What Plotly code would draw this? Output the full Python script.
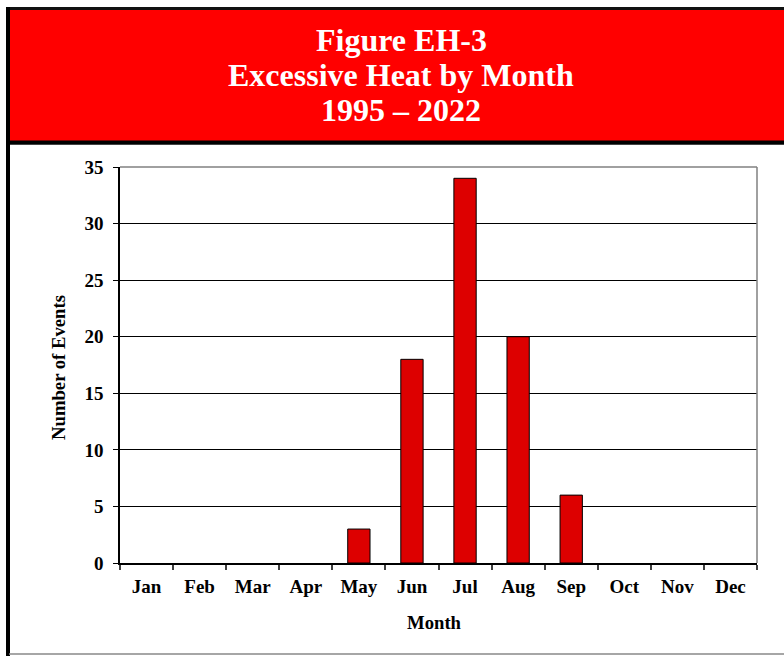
import plotly.graph_objects as go

months = ["Jan", "Feb", "Mar", "Apr", "May", "Jun", "Jul", "Aug", "Sep", "Oct", "Nov", "Dec"]
events = [0, 0, 0, 0, 3, 18, 34, 20, 6, 0, 0, 0]
y_ticks = [0, 5, 10, 15, 20, 25, 30, 35]
title_lines = ["Figure EH-3", "Excessive Heat by Month", "1995 \u2013 2022"]

W, H = 784, 656
L, R, T, B = 120, 757, 167, 563

def px(x):
    return (x - L) / (R - L)

def py(y):
    return (B - y) / (B - T)

FONT = "Liberation Serif, Times New Roman, serif"

fig = go.Figure(go.Bar(
    x=months, y=events,
    marker=dict(color="#DD0000",
                line=dict(color="black", width=[1 if v > 0 else 0 for v in events])),
    width=0.42,
))

shapes = [
    dict(type="rect", xref="paper", yref="paper", x0=px(8), x1=px(800), y0=py(143), y1=py(8.5),
         fillcolor="#FF0000", line=dict(color="#111111", width=3), layer="above"),
    dict(type="line", xref="paper", yref="paper", x0=px(8), x1=px(800), y0=py(142.5), y1=py(142.5),
         line=dict(color="black", width=4), layer="above"),
    dict(type="line", xref="paper", yref="paper", x0=px(8), x1=px(8), y0=py(7), y1=py(660),
         line=dict(color="black", width=4), layer="above"),
    dict(type="line", xref="paper", yref="paper", x0=px(9), x1=px(800), y0=py(654), y1=py(654),
         line=dict(color="#888888", width=1.5), layer="above"),
    dict(type="line", xref="paper", yref="paper", x0=0, x1=1, y0=1, y1=1,
         line=dict(color="#808080", width=1.5), layer="above"),
    dict(type="line", xref="paper", yref="paper", x0=1, x1=1, y0=0, y1=1,
         line=dict(color="#808080", width=1.5), layer="above"),
]

annotations = []
for i, line in enumerate(title_lines):
    annotations.append(dict(
        text="<b>%s</b>" % line, xref="paper", yref="paper",
        x=px(401), y=py(40 + i * 35), xanchor="center", yanchor="middle",
        showarrow=False, font=dict(family=FONT, size=32, color="white"),
    ))
annotations.append(dict(
    text="<b>Month</b>", xref="paper", yref="paper", x=px(434), y=py(622),
    xanchor="center", yanchor="middle", showarrow=False,
    font=dict(family=FONT, size=18.7, color="black"),
))
annotations.append(dict(
    text="<b>Number of Events</b>", xref="paper", yref="paper", x=px(58), y=py(368),
    xanchor="center", yanchor="middle", showarrow=False, textangle=-90,
    font=dict(family=FONT, size=18.7, color="black"),
))

fig.update_layout(
    width=W, height=H,
    margin=dict(l=L, r=W - R, t=T, b=H - B),
    paper_bgcolor="white", plot_bgcolor="white",
    showlegend=False,
    font=dict(family=FONT, size=19, color="black"),
    shapes=shapes,
    annotations=annotations,
    xaxis=dict(
        type="category",
        tickvals=months, ticktext=["<b>%s</b>" % m for m in months],
        showline=True, linecolor="black", linewidth=1.5,
        ticks="outside", ticklen=5, tickcolor="#404040", tickwidth=1.5,
        tickson="boundaries", ticklabelstandoff=5,
        showgrid=False,
        tickfont=dict(family=FONT, size=19, color="black"),
    ),
    yaxis=dict(
        range=[0, 35], tickvals=y_ticks,
        ticktext=["<b>%d</b>" % v for v in y_ticks],
        showline=True, linecolor="black", linewidth=1.5,
        ticks="outside", ticklen=5, tickcolor="black", tickwidth=1,
        ticklabelstandoff=6,
        showgrid=True, gridcolor="black", gridwidth=1,
        zeroline=False,
        tickfont=dict(family=FONT, size=19, color="black"),
    ),
)

fig.write_html(
    "out.html",
    config={"displayModeBar": False},
    post_script="document.body.style.margin='0px';document.body.style.overflow='hidden';",
)
